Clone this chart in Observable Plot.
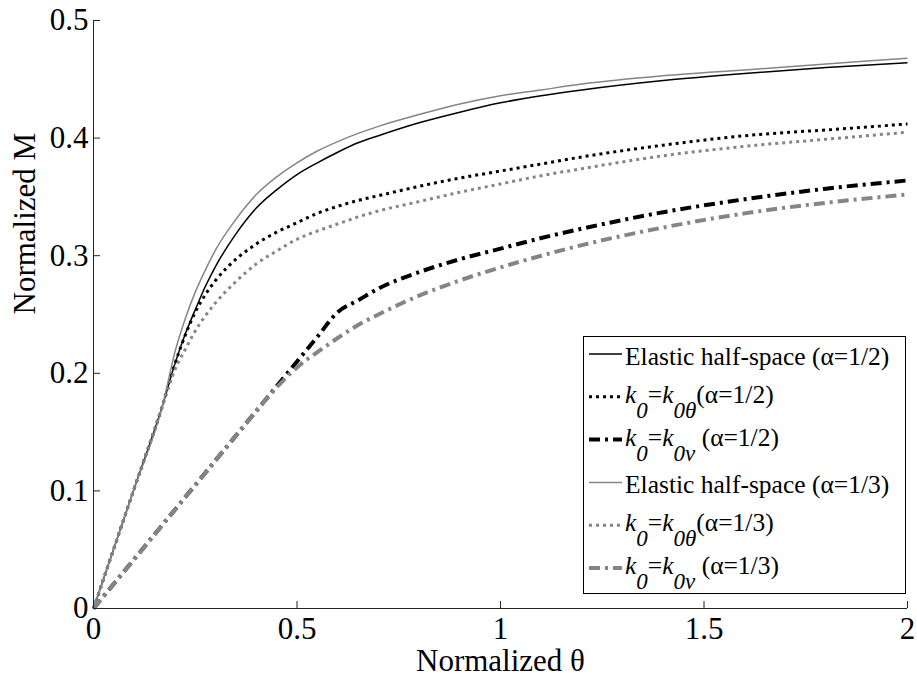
<!DOCTYPE html>
<html>
<head>
<meta charset="utf-8">
<script src="https://cdn.jsdelivr.net/npm/d3@7"></script>
<script src="https://cdn.jsdelivr.net/npm/@observablehq/plot@0.6"></script>
<style>
  html, body { margin: 0; padding: 0; background: #fff; }
  #chart { width: 917px; height: 680px; }
</style>
</head>
<body>
<div id="chart"></div>
<script>
// ---- data ----
const theta = [0, 0.05, 0.1, 0.17, 0.2, 0.225, 0.25, 0.275, 0.3, 0.35, 0.4, 0.45, 0.5, 0.55, 0.6, 0.65, 0.7, 0.8, 0.9, 1.0, 1.1, 1.2, 1.4, 1.6, 1.8, 2.0];
const elasticHalf   = [0, 0.051, 0.102, 0.173, 0.208, 0.233, 0.254, 0.274, 0.291, 0.3185, 0.3405, 0.356, 0.369, 0.379, 0.388, 0.396, 0.402, 0.413, 0.422, 0.430, 0.436, 0.441, 0.449, 0.455, 0.460, 0.464];
const k0thetaHalf   = [0, 0.051, 0.102, 0.173, 0.208, 0.232, 0.252, 0.267, 0.279, 0.297, 0.310, 0.320, 0.328, 0.336, 0.342, 0.347, 0.351, 0.359, 0.366, 0.372, 0.378, 0.384, 0.394, 0.402, 0.407, 0.412];
const k0vHalf       = [0, 0.021, 0.042, 0.0714, 0.084, 0.0945, 0.105, 0.1155, 0.126, 0.147, 0.168, 0.189, 0.210, 0.231, 0.252, 0.262, 0.272, 0.286, 0.297, 0.306, 0.315, 0.323, 0.337, 0.348, 0.357, 0.364];
const elasticThird  = [0, 0.051, 0.102, 0.173, 0.218, 0.246, 0.269, 0.288, 0.305, 0.331, 0.352, 0.367, 0.379, 0.389, 0.397, 0.404, 0.410, 0.420, 0.429, 0.436, 0.441, 0.446, 0.453, 0.458, 0.463, 0.468];
const k0thetaThird  = [0, 0.051, 0.102, 0.173, 0.203, 0.220, 0.236, 0.249, 0.260, 0.278, 0.293, 0.304, 0.314, 0.321, 0.327, 0.333, 0.338, 0.346, 0.354, 0.361, 0.368, 0.374, 0.385, 0.393, 0.399, 0.405];
const k0vThird      = [0, 0.021, 0.042, 0.0714, 0.084, 0.0945, 0.105, 0.1155, 0.126, 0.147, 0.168, 0.188, 0.205, 0.218, 0.230, 0.241, 0.250, 0.266, 0.279, 0.290, 0.300, 0.309, 0.324, 0.336, 0.345, 0.352];

const seriesNames = ["Elastic half-space (α=1/2)", "k0=k0θ (α=1/2)", "k0=k0v (α=1/2)",
                     "Elastic half-space (α=1/3)", "k0=k0θ (α=1/3)", "k0=k0v (α=1/3)"];
const seriesValues = [elasticHalf, k0thetaHalf, k0vHalf, elasticThird, k0thetaThird, k0vThird];
const alphaLabels = ["1/2", "1/2", "1/2", "1/3", "1/3", "1/3"];
const xTicks = [0, 0.5, 1, 1.5, 2];
const xTickLabels = ["0", "0.5", "1", "1.5", "2"];
const yTicks = [0, 0.1, 0.2, 0.3, 0.4, 0.5];
const yTickLabels = ["0", "0.1", "0.2", "0.3", "0.4", "0.5"];
const xTitle = "Normalized θ";
const yTitle = "Normalized M";

// ---- styles ----
const FONT = "'Liberation Serif','Times New Roman',Times,serif";
const BLACK = "#000";
const GREY = "#858585";
const styles = [
  {stroke: BLACK, strokeWidth: 1.5, dash: null},
  {stroke: BLACK, strokeWidth: 3, dash: "3,4"},
  {stroke: BLACK, strokeWidth: 4, dash: "11,5,3,5"},
  {stroke: GREY, strokeWidth: 1.5, dash: null},
  {stroke: GREY, strokeWidth: 3, dash: "3,4"},
  {stroke: GREY, strokeWidth: 4, dash: "11,5,3,5"}
];

const W = 917, H = 680;
const mL = 93, mR = 10, mT = 20, mB = 72;
const plotW = W - mL - mR, plotH = H - mT - mB;

const tables = seriesValues.map((vals, s) => theta.map((t, i) => ({theta: t, M: vals[i], s})));

const lineMarks = tables.map((tbl, s) => Plot.line(tbl, {
  x: "theta", y: "M",
  stroke: styles[s].stroke,
  strokeWidth: styles[s].strokeWidth,
  strokeDasharray: styles[s].dash,
  strokeLinecap: "butt",
  curve: "monotone-x"
}));

const xFmt = d => xTickLabels[xTicks.indexOf(d)];
const yFmt = d => yTickLabels[yTicks.indexOf(d)];

const plot = Plot.plot({
  width: W, height: H,
  marginLeft: mL, marginRight: mR, marginTop: mT, marginBottom: mB,
  style: {fontFamily: FONT, fontSize: "32px", color: "#000", background: "#fff", overflow: "visible"},
  x: {domain: [0, 2], label: null},
  y: {domain: [0, 0.5], label: null},
  marks: [
    ...lineMarks,
    Plot.ruleX([0], {stroke: "#222", strokeWidth: 1}),
    Plot.ruleY([0], {stroke: "#222", strokeWidth: 1}),
    Plot.tickY(yTicks, {y: d => d, stroke: "#222", insetRight: plotW - 7}),
    Plot.tickX(xTicks, {x: d => d, stroke: "#222", insetTop: plotH - 7}),
    Plot.axisX({ticks: xTicks, tickFormat: xFmt, tickSize: 0, tickPadding: 8, fontSize: 31, fontFamily: FONT, fill: "#000", label: null}),
    Plot.axisY({ticks: yTicks, tickFormat: yFmt, tickSize: 0, tickPadding: 5, fontSize: 31, fontFamily: FONT, fill: "#000", label: null}),
    Plot.text([xTitle], {text: d => d, frameAnchor: "bottom", dy: 53, lineAnchor: "middle", fontSize: 31, fontFamily: FONT, fill: "#000"}),
    Plot.text([yTitle], {text: d => d, frameAnchor: "left", dx: -68, rotate: -90, lineAnchor: "middle", fontSize: 31, fontFamily: FONT, fill: "#000"})
  ]
});

document.getElementById("chart").appendChild(plot);

// ---- legend ----
const svg = d3.select(plot);
const lg = svg.append("g").attr("font-family", FONT).attr("fill", "#000").attr("text-anchor", "start");
const box = {x: 583.5, y: 336.5, w: 322, h: 257};
lg.append("rect").attr("x", box.x).attr("y", box.y).attr("width", box.w).attr("height", box.h)
  .attr("fill", "#fff").attr("stroke", "#000").attr("stroke-width", 1);
const row0 = 354, rowStep = 42.8;
seriesNames.forEach((name, i) => {
  const cy = row0 + i * rowStep;
  const st = styles[i];
  lg.append("line").attr("x1", 589).attr("x2", 622).attr("y1", cy).attr("y2", cy)
    .attr("stroke", st.stroke).attr("stroke-width", st.strokeWidth)
    .attr("stroke-dasharray", st.dash);
  const t = lg.append("text").attr("x", 625).attr("font-size", 25.5).attr("text-anchor", "start");
  if (name.startsWith("Elastic")) {
    t.attr("y", cy + 11).text(name);
  } else {
    const sub = name.includes("θ") ? "0θ" : "0v";
    const tail = name.includes("θ") ? `(α=${alphaLabels[i]})` : `\u00A0(α=${alphaLabels[i]})`;
    t.attr("y", cy + 6);
    t.append("tspan").attr("font-style", "italic").text("k");
    t.append("tspan").attr("font-style", "italic").attr("font-size", 23).attr("dy", 15).text("0");
    t.append("tspan").attr("dy", -15).text("=");
    t.append("tspan").attr("font-style", "italic").text("k");
    t.append("tspan").attr("font-style", "italic").attr("font-size", 23).attr("dy", 15).text(sub);
    t.append("tspan").attr("dy", -15).text(tail);
  }
});
</script>
</body>
</html>
